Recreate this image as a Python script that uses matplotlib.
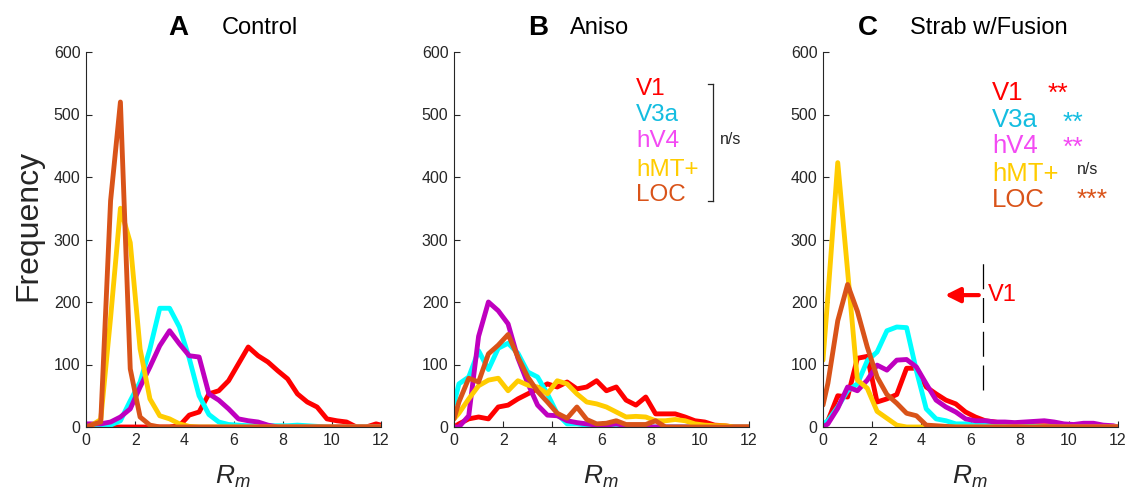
import numpy as np
import matplotlib
matplotlib.use('Agg')
import matplotlib.pyplot as plt

plt.rcParams['font.family'] = ['Liberation Sans', 'DejaVu Sans']
plt.rcParams['mathtext.fontset'] = 'custom'
plt.rcParams['mathtext.it'] = 'Liberation Sans:italic'
plt.rcParams['mathtext.rm'] = 'Liberation Sans'

# bin positions (R_m)
rm = np.r_[0, np.arange(0.2, 12, 0.4), 12]

regions = ['V1', 'V3a', 'hV4', 'hMT+', 'LOC']
line_colors = ['#ff0000', '#00ffff', '#bf00bf', '#ffcc00', '#d95319']
text_colors = ['#ff0000', '#14bde0', '#f34af3', '#ffcc00', '#d95319']

# Control
ctrl_v1 = [0, 0, 0, 0, 0, 0, 0, 0, 0, 0, 2, 19, 24, 53, 58, 74, 101, 128, 114, 104, 90, 77, 53, 40, 32, 13, 10, 8, 0, 0, 5, 3]
ctrl_v3a = [0, 0, 2, 3, 10, 42, 72, 125, 190, 190, 160, 110, 50, 20, 8, 4, 3, 2, 2, 2, 2, 2, 3, 2, 1, 0, 0, 0, 0, 0, 0, 0]
ctrl_hv4 = [5, 5, 5, 8, 16, 29, 64, 96, 130, 154, 133, 114, 112, 53, 43, 29, 13, 10, 8, 3, 0, 0, 0, 0, 0, 0, 0, 0, 0, 0, 0, 0]
ctrl_hmt = [0, 2, 12, 175, 350, 295, 125, 45, 18, 13, 5, 1, 0, 0, 0, 0, 0, 0, 0, 0, 0, 0, 0, 0, 0, 0, 0, 0, 0, 0, 0, 0]
ctrl_loc = [0, 3, 8, 362, 520, 93, 16, 3, 0, 0, 0, 0, 0, 0, 0, 0, 0, 0, 0, 0, 0, 0, 0, 0, 0, 0, 0, 0, 0, 0, 0, 0]

# Aniso
aniso_v1 = [0, 5, 13, 16, 13, 32, 35, 45, 53, 61, 69, 64, 72, 61, 64, 74, 58, 64, 43, 35, 48, 21, 21, 21, 16, 10, 8, 3, 2, 0, 0, 0]
aniso_v3a = [37, 69, 80, 122, 92, 126, 134, 118, 88, 80, 53, 21, 5, 5, 3, 2, 2, 1, 0, 0, 0, 0, 0, 0, 0, 0, 0, 0, 0, 0, 0, 0]
aniso_hv4 = [0, 0, 18, 145, 200, 186, 165, 110, 70, 35, 19, 18, 10, 7, 5, 3, 3, 5, 2, 1, 0, 0, 0, 0, 0, 0, 0, 0, 0, 0, 0, 0]
aniso_hmt = [13, 22, 45, 66, 75, 78, 58, 74, 67, 64, 53, 74, 69, 53, 40, 37, 32, 24, 16, 17, 16, 10, 10, 12, 10, 5, 3, 2, 2, 0, 0, 0]
aniso_loc = [13, 40, 78, 72, 117, 131, 148, 112, 80, 57, 40, 22, 14, 32, 12, 5, 6, 10, 4, 4, 4, 10, 0, 0, 0, 0, 0, 0, 0, 0, 0, 0]

# Strab w/Fusion
strab_v1 = [0, 10, 50, 48, 110, 113, 40, 45, 52, 94, 94, 64, 53, 43, 37, 24, 16, 10, 8, 5, 3, 3, 2, 2, 2, 1, 1, 0, 0, 0, 0, 0]
strab_v3a = [5, 10, 32, 58, 69, 106, 120, 154, 160, 159, 90, 29, 13, 10, 5, 5, 3, 3, 2, 2, 1, 1, 1, 0, 0, 0, 0, 0, 0, 0, 0, 0]
strab_hv4 = [0, 5, 30, 64, 58, 75, 99, 91, 107, 108, 96, 69, 43, 32, 24, 13, 10, 10, 8, 8, 7, 8, 9, 10, 8, 5, 4, 6, 6, 3, 2, 0]
strab_hmt = [107, 210, 423, 250, 75, 62, 25, 14, 3, 0, 0, 0, 0, 0, 0, 0, 0, 0, 0, 0, 0, 0, 0, 0, 0, 0, 0, 0, 0, 0, 0, 0]
strab_loc = [35, 70, 170, 228, 185, 128, 80, 52, 38, 22, 18, 3, 2, 1, 0, 0, 0, 0, 0, 0, 0, 0, 0, 0, 0, 0, 0, 0, 0, 0, 0, 0]

panels = [
    ('A', 'Control', [ctrl_v1, ctrl_v3a, ctrl_hv4, ctrl_hmt, ctrl_loc]),
    ('B', 'Aniso', [aniso_v1, aniso_v3a, aniso_hv4, aniso_hmt, aniso_loc]),
    ('C', 'Strab w/Fusion', [strab_v1, strab_v3a, strab_hv4, strab_hmt, strab_loc]),
]

W, H = 1130, 492
fig = plt.figure(figsize=(W / 100, H / 100), dpi=100)
axc = '#262626'

lefts = [86, 454, 823]
letter_x = [178, 538, 868]
name_x = [222, 570, 910]
axes = []
for i, (letter, name, series) in enumerate(panels):
    ax = fig.add_axes([lefts[i] / W, 1 - 427 / H, 295 / W, 375 / H])
    for vals, c in zip(series, line_colors):
        ax.plot(rm, vals, color=c, lw=3.5, solid_joinstyle='round', solid_capstyle='round')
    ax.set_xlim(0, 12)
    ax.set_ylim(0, 600)
    ax.set_xticks(range(0, 13, 2))
    ax.set_yticks(range(0, 601, 100))
    for s in ['top', 'right']:
        ax.spines[s].set_visible(False)
    for s in ['left', 'bottom']:
        ax.spines[s].set_color(axc)
        ax.spines[s].set_linewidth(0.8)
    ax.tick_params(direction='in', length=4, width=0.8, color=axc, labelcolor=axc, labelsize=11.5, pad=4)
    fig.text(letter_x[i] / W, 1 - 28 / H, letter, fontsize=20, fontweight='bold', ha='center', va='center', color='black')
    fig.text(name_x[i] / W, 1 - 28 / H, name, fontsize=17, ha='left', va='center', color='black')
    fig.text((lefts[i] + 147) / W, 1 - 477 / H, r'$R_m$', fontsize=19, ha='center', va='center', color=axc)
    axes.append(ax)

fig.text(28 / W, 1 - 225 / H, 'Frequency', fontsize=23, rotation=90, ha='center', va='center', color=axc)

# legend B with bracket
legB_y = [89, 115, 141, 170, 195]
for lab, c, y in zip(regions, text_colors, legB_y):
    fig.text(636 / W, 1 - y / H, lab, fontsize=17.5, color=c, ha='left', va='center')
bx = 713
fig.add_artist(plt.Line2D([bx / W, bx / W], [1 - 84 / H, 1 - 201 / H], color=axc, lw=0.9))
fig.add_artist(plt.Line2D([(bx - 5) / W, bx / W], [1 - 84 / H, 1 - 84 / H], color=axc, lw=0.9))
fig.add_artist(plt.Line2D([(bx - 5) / W, bx / W], [1 - 201 / H, 1 - 201 / H], color=axc, lw=0.9))
fig.text(720 / W, 1 - 140 / H, 'n/s', fontsize=11.5, color=axc, ha='left', va='center')

# legend C with significance marks
legC_y = [93, 120, 146, 174, 200]
marks = ['**', '**', '**', 'n/s', '***']
mark_x = [1048, 1063, 1063, 1077, 1077]
mark_y = [94, 123, 148, 169, 200]
for lab, c, y in zip(regions, text_colors, legC_y):
    fig.text(992 / W, 1 - y / H, lab, fontsize=18.5, color=c, ha='left', va='center')
for m, c, x, y in zip(marks, text_colors, mark_x, mark_y):
    if m == 'n/s':
        fig.text(x / W, 1 - y / H, m, fontsize=11.5, color=axc, ha='left', va='center')
    else:
        fig.text(x / W, 1 - y / H, m, fontsize=19, color=c, ha='left', va='center')

# V1 threshold marker in C
axC = axes[2]
axC.plot([6.5, 6.5], [60, 265], color='black', lw=0.9, dashes=(20, 7))
axC.annotate('', xy=(4.85, 211), xytext=(6.45, 211),
             arrowprops=dict(arrowstyle='-|>', color='red', lw=3, mutation_scale=22))
axC.text(6.7, 211, 'V1', color='red', fontsize=17, ha='left', va='center')

fig.savefig('out.png', dpi=100)
